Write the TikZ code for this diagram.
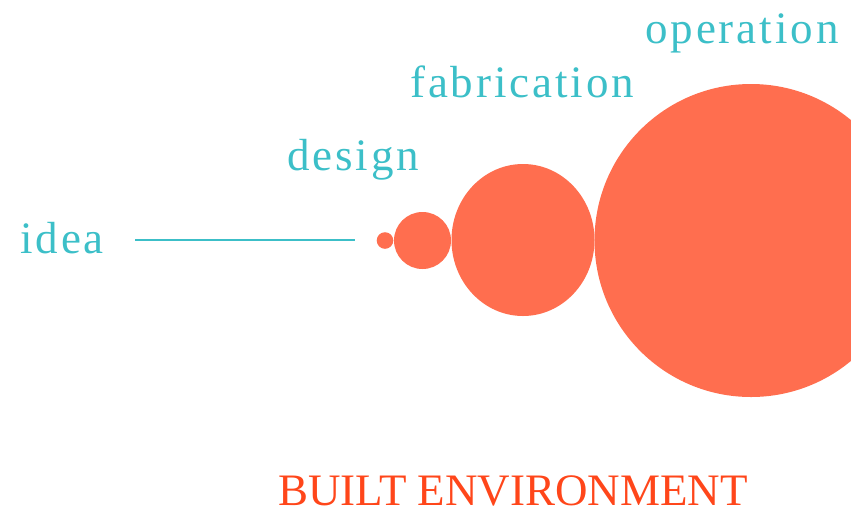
\documentclass[tikz,border=0pt]{standalone}
\usepackage{fontspec}
\setmainfont{Liberation Serif}
\newfontfamily\spacedfont[LetterSpace=6.5]{Liberation Serif}
\definecolor{tealc}{HTML}{3CBFC8}
\definecolor{blob}{HTML}{FF6E4F}
\definecolor{redtext}{HTML}{FF461A}
\begin{document}
\begin{tikzpicture}[x=1pt,y=-1pt,
  stage/.style={anchor=base west,inner sep=0pt,text=tealc,font=\spacedfont\fontsize{45}{50}\selectfont},
  bubble/.style={fill=blob,draw=none,inner sep=0pt}]
\useasboundingbox (0,0) rectangle (851,515);
\begin{scope}
\clip (0,0) rectangle (851,515);
\node[stage] (idea) at (20,253) {idea};
\node[stage] (design) at (287,170) {design};
\node[stage] (fab) at (410,97) {fabrication};
\node[stage] (op) at (645,43) {operation};
\coordinate (l1) at (135,240);
\coordinate (l2) at (355,240);
\draw[tealc,line width=1.3pt] (l1) -- (l2);
\node[bubble,circle,minimum size=16.6pt] (b1) at (385,240.5) {};
\node[bubble,circle,minimum size=57pt] (b2) at (422.5,240.5) {};
\fill[blob] (523,240) ellipse [x radius=71.5, y radius=76];
\fill[blob] (751,240.5) circle [radius=156.5];
\node[anchor=base west,inner sep=0pt,text=redtext,font=\fontsize{45}{50}\selectfont] (built) at (278,505) {BUILT ENVIRONMENT};
\end{scope}
\end{tikzpicture}
\end{document}
